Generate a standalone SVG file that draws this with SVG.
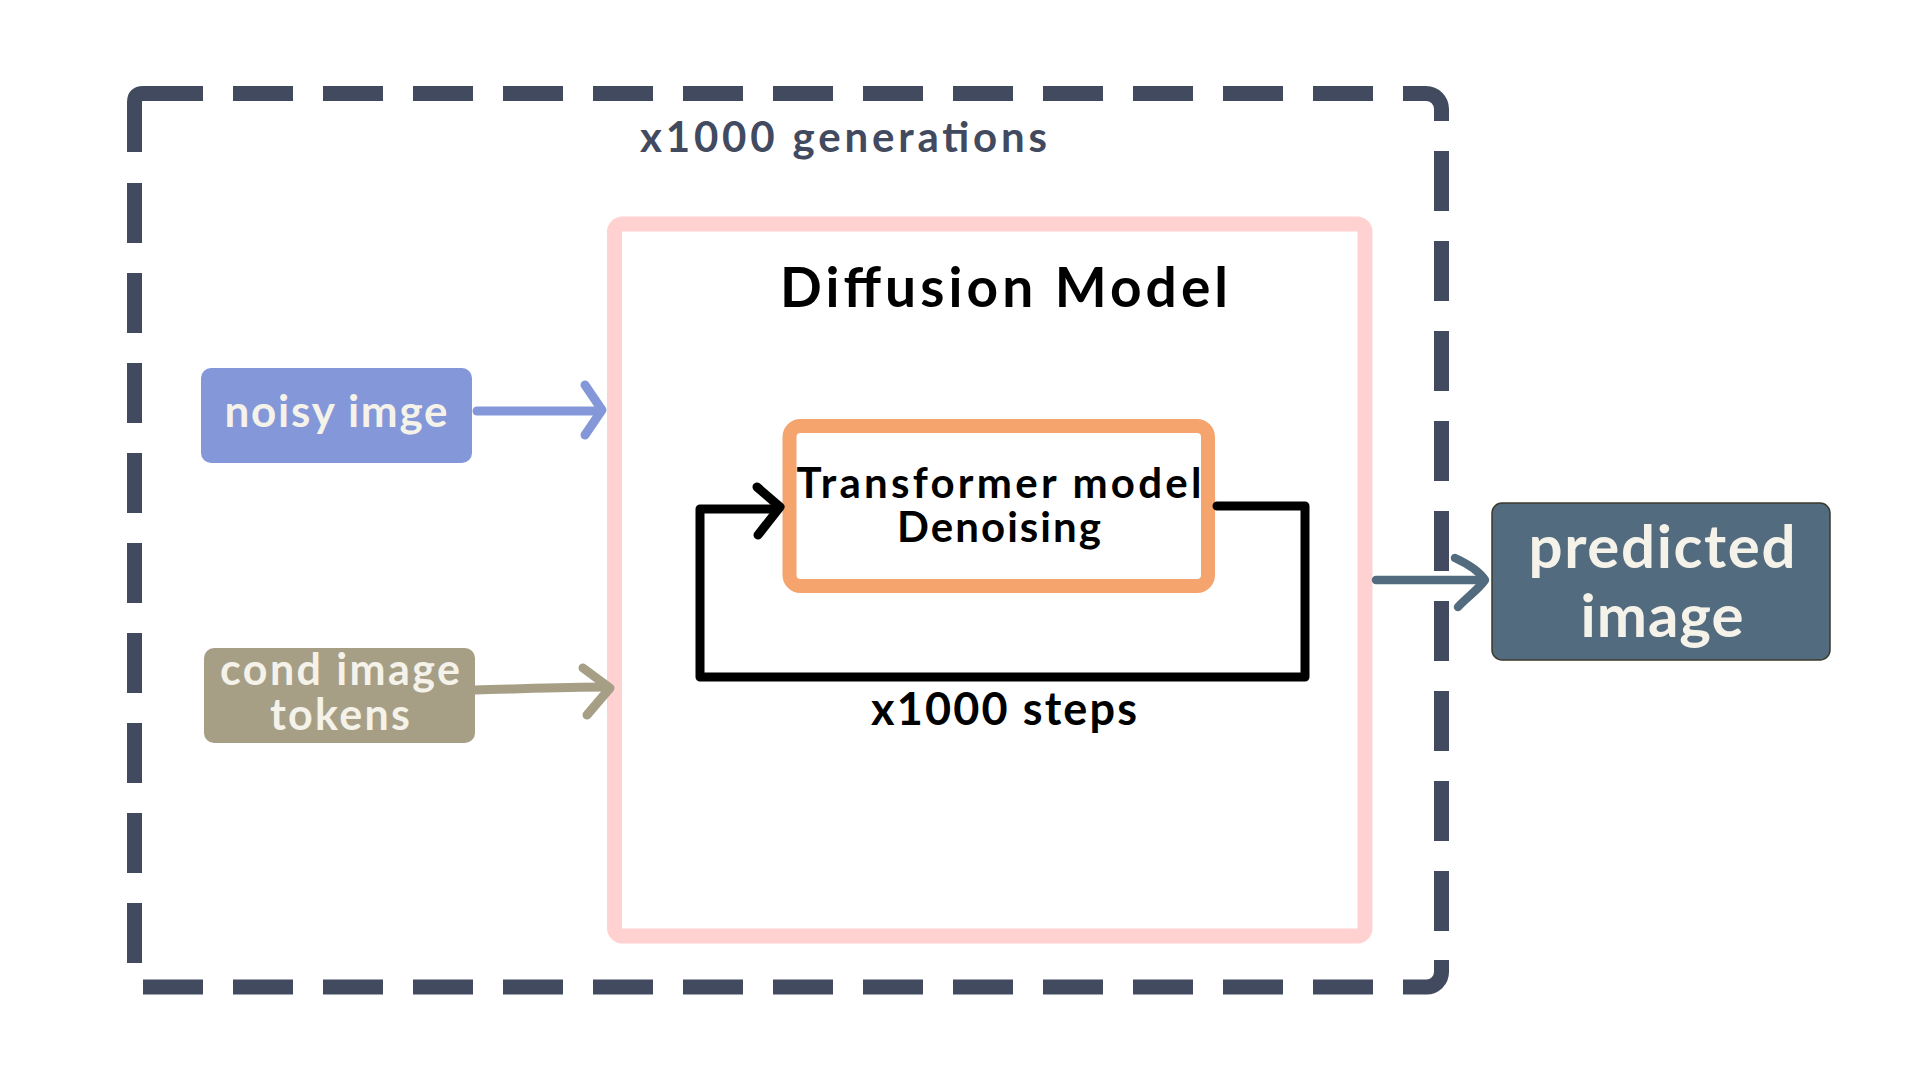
<svg xmlns="http://www.w3.org/2000/svg" width="1920" height="1080" viewBox="0 0 1920 1080">
  <style>
    .dash { fill: none; stroke: #424a60; stroke-width: 15; stroke-linecap: butt; }
    .dashed { stroke-dasharray: 60 30; }
    .lbl { font-family: "Lato", "Liberation Sans", sans-serif; font-weight: 700; fill: #f5f2ea; text-anchor: middle; }
    .blk { font-family: "Lato", "Liberation Sans", sans-serif; fill: #000000; text-anchor: middle; }
    .arrow { fill: none; stroke-linecap: round; stroke-linejoin: round; }
  </style>
  <rect x="0" y="0" width="1920" height="1080" fill="#ffffff"/>

  <g id="generations-frame">
    <path class="dash dashed" d="M143,93.5 H1373"/>
    <path class="dash" d="M1403,93.5 H1426 A15.5,15.5 0 0 1 1441.5,109 V121"/>
    <path class="dash dashed" d="M1441.5,151 V931"/>
    <path class="dash" d="M1441.5,960 V972 A15,15 0 0 1 1426.5,987 H1403"/>
    <path class="dash dashed" d="M143,987 H1373"/>
    <path class="dash dashed" d="M134.5,183 V963"/>
    <path class="dash" d="M134.5,152 V102 Q134.5,93.5 143,93.5 H203"/>
    <text x="843.5" y="152" font-family="Lato, 'Liberation Sans', sans-serif" font-weight="700" font-size="42" fill="#424a60" text-anchor="middle" textLength="407">x1000 generations</text>
  </g>

  <g id="diffusion-model">
    <rect x="614.5" y="224" width="750.5" height="712" rx="8" fill="#ffffff" stroke="#ffd1d1" stroke-width="15"/>
    <text class="blk" x="1004" y="307" font-size="55" font-weight="700" textLength="448">Diffusion Model</text>
  </g>

  <g id="transformer">
    <rect x="789.5" y="426" width="418.5" height="160" rx="11" fill="#ffffff" stroke="#f6a46e" stroke-width="14"/>
    <text class="blk" x="999" y="498" font-size="42" font-weight="700" textLength="405">Transformer model</text>
    <text class="blk" x="999" y="542" font-size="42" font-weight="700" textLength="204">Denoising</text>
  </g>

  <g id="noisy-image">
    <rect x="201" y="368" width="271" height="95" rx="10" fill="#8497d8"/>
    <text class="lbl" x="336" y="427" font-size="44" textLength="223">noisy imge</text>
  </g>

  <g id="cond-image-tokens">
    <rect x="204" y="648" width="271" height="95" rx="10" fill="#a69f86"/>
    <text class="lbl" x="340" y="685" font-size="43" textLength="240">cond image</text>
    <text class="lbl" x="340" y="730" font-size="43" textLength="140">tokens</text>
  </g>

  <g id="predicted-image">
    <rect x="1492" y="503" width="338" height="157" rx="10" fill="#526b7e" stroke="#3b3a2e" stroke-width="1.5"/>
    <text class="lbl" x="1662" y="568" font-size="60" textLength="267">predicted</text>
    <text class="lbl" x="1662" y="637" font-size="60" textLength="163">image</text>
  </g>

  <g id="connectors">
    <path class="arrow" stroke="#8497d8" stroke-width="9" d="M477,411 H600"/>
    <path class="arrow" stroke="#8497d8" stroke-width="9" d="M585,385 L602,410 L585,435"/>
    <path class="arrow" stroke="#a69f86" stroke-width="9" d="M475,690 C520,689 560,687 608,687"/>
    <path class="arrow" stroke="#a69f86" stroke-width="9" d="M583,668 L610,688 L587,715"/>
    <path class="arrow" stroke="#526b7e" stroke-width="8.5" d="M1376,580 H1483"/>
    <path class="arrow" stroke="#526b7e" stroke-width="8.5" d="M1455,558 C1470,565 1480,572 1485,580 C1478,590 1466,598 1458,607"/>
    <path class="arrow" stroke="#000000" stroke-width="9" d="M1217,506 H1305 V677 H700 V509 H778"/>
    <path class="arrow" stroke="#000000" stroke-width="9" d="M757,487 L780,507 L758,535"/>
    <text class="blk" x="1004" y="725" font-size="45" font-weight="700" textLength="266">x1000 steps</text>
  </g>
</svg>
